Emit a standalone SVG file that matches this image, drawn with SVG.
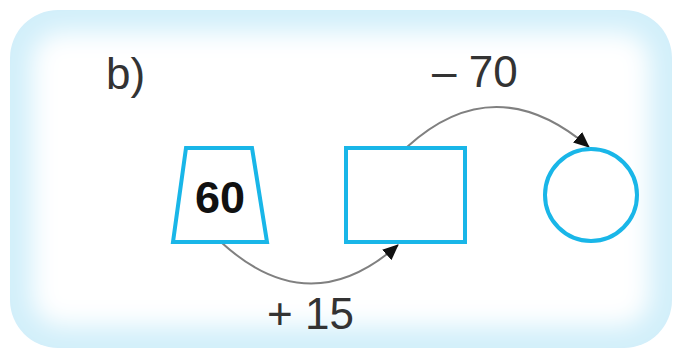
<svg xmlns="http://www.w3.org/2000/svg" width="681" height="356" viewBox="0 0 681 356">
<defs>
<style>
.shape{fill:#ffffff;stroke:#19b6e8;stroke-width:4;}
.conn{fill:none;stroke:#808080;stroke-width:2;}
.lbl{font-family:"Liberation Sans",Arial,sans-serif;font-size:44px;fill:#333333;}
.val{font-family:"Liberation Sans",Arial,sans-serif;font-size:45px;font-weight:bold;fill:#111111;}
</style>
<marker id="ah" viewBox="0 0 16 14" refX="15" refY="7" markerWidth="16" markerHeight="14" markerUnits="userSpaceOnUse" orient="auto">
<path d="M0,0 L16,7 L0,14 z" fill="#111111"/>
</marker>
<filter id="blur" x="-20%" y="-20%" width="140%" height="140%">
<feGaussianBlur stdDeviation="12"/>
</filter>
<clipPath id="frame">
<rect x="10" y="10" width="662" height="338" rx="48"/>
</clipPath>
</defs>
<rect width="681" height="356" fill="#ffffff"/>
<g id="background">
<rect x="10" y="10" width="662" height="338" rx="48" fill="#d2effa"/>
<g clip-path="url(#frame)">
<rect x="32" y="32" width="618" height="294" rx="30" fill="#ffffff" filter="url(#blur)"/>
</g>
</g>
<text class="lbl" x="106" y="89">b)</text>
<g id="connectors">
<path class="conn" d="M222,243 Q310,323 398,245" marker-end="url(#ah)"/>
<path class="conn" d="M407,147 Q495,67 589,147" marker-end="url(#ah)"/>
<text class="lbl" x="267" y="329">+ 15</text>
<text class="lbl" x="432" y="87">– 70</text>
</g>
<g id="start">
<polygon class="shape" points="186,148 252,148 267,242 173,242"/>
<text class="val" x="220" y="213" text-anchor="middle">60</text>
</g>
<g id="middle">
<rect class="shape" x="346" y="148" width="119" height="94"/>
</g>
<g id="result">
<circle class="shape" cx="591" cy="195" r="46"/>
</g>
</svg>
